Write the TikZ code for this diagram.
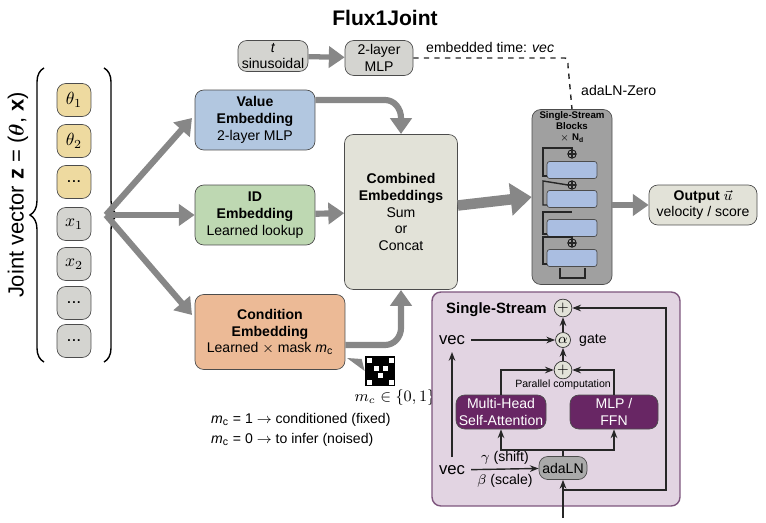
\documentclass[tikz,border=0pt]{standalone}
\usepackage{fontspec}
\setmainfont{Liberation Sans}
\usepackage{amsmath}
\usetikzlibrary{arrows.meta,positioning,decorations.pathreplacing,calc}
\definecolor{valblue}{RGB}{178,199,224}
\definecolor{idgreen}{RGB}{190,216,178}
\definecolor{condorange}{RGB}{236,186,150}
\definecolor{thetayellow}{RGB}{238,218,160}
\definecolor{boxgray}{RGB}{212,212,208}
\definecolor{combgray}{RGB}{226,226,216}
\definecolor{flowgray}{RGB}{135,135,135}
\definecolor{ssback}{RGB}{226,212,226}
\definecolor{ssedge}{RGB}{125,85,125}
\definecolor{sspurple}{RGB}{104,38,100}
\definecolor{stackgray}{RGB}{160,160,160}
\definecolor{layerblue}{RGB}{170,190,225}

\begin{document}
\begin{tikzpicture}[x=0.02cm,y=-0.02cm,
    font=\fontsize{8pt}{9.5pt}\selectfont,
    block/.style={rectangle, draw=black!70, rounded corners=5pt, align=center, inner sep=1pt},
    cell/.style={block, minimum width=0.68cm, minimum height=0.66cm, font=\fontsize{10pt}{11pt}\selectfont},
    flow/.style={draw=flowgray, line width=3.5pt, -{Triangle[length=9pt,width=12pt]}},
    thin/.style={draw=black!85, thick, -{Stealth[length=5pt]}},
    opnode/.style={circle, draw=black!80, fill=combgray, inner sep=0.5pt, minimum size=0.3cm},
    layer/.style={rectangle, draw=black!70, fill=layerblue, rounded corners=1.5pt, minimum width=1.0cm, minimum height=0.34cm}
]
    \useasboundingbox (0,0) rectangle (766,523);

    \node[font=\fontsize{12pt}{14pt}\selectfont\bfseries] (title) at (385,18) {Flux1Joint};

    % joint vector
    \node[rotate=90, font=\fontsize{12.5pt}{14pt}\selectfont] (jv) at (18,195) {Joint vector $\mathbf{z}$ = ($\boldsymbol{\theta}$, $\mathbf{x}$)};
    \node[cell, fill=thetayellow] (c1) at (74,100) {$\theta_1$};
    \node[cell, fill=thetayellow] (c2) at (74,141) {$\theta_2$};
    \node[cell, fill=thetayellow] (c3) at (74,182) {...};
    \node[cell, fill=boxgray] (c4) at (74,224) {$x_1$};
    \node[cell, fill=boxgray] (c5) at (74,264) {$x_2$};
    \node[cell, fill=boxgray] (c6) at (74,303) {...};
    \node[cell, fill=boxgray] (c7) at (74,341) {...};
    \draw[thick, decorate, decoration={brace, amplitude=8pt}] (44,362) -- (44,68);
    \draw[thick, decorate, decoration={brace, amplitude=8pt}] (104,68) -- (104,362);

    % embeddings
    \node[block, fill=valblue, minimum width=2.4cm, minimum height=1.2cm] (val) at (255,120) {\textbf{Value}\\\textbf{Embedding}\\2-layer MLP};
    \node[block, fill=idgreen, minimum width=2.4cm, minimum height=1.2cm] (id) at (255,215) {\textbf{ID}\\\textbf{Embedding}\\Learned lookup};
    \node[block, fill=condorange, minimum width=3.0cm, minimum height=1.5cm] (cond) at (270,332) {\textbf{Condition}\\\textbf{Embedding}\\Learned $\times$ mask \textit{m}\textsubscript{c}};
    \coordinate (fan) at (106,215);
    \draw[flow] (fan) -- (192,118);
    \draw[flow] (fan) -- (id.west);
    \draw[flow] (fan) -- (192,315);

    % time embedding
    \node[block, fill=boxgray, minimum width=1.4cm, minimum height=0.62cm] (tsin) at (273,56) {\textit{t}\\sinusoidal};
    \node[block, fill=boxgray, minimum width=1.36cm, minimum height=0.7cm] (tmlp) at (379,58) {2-layer\\MLP};
    \draw[flow, line width=3pt] (tsin) -- (tmlp);
    \node[anchor=west] (evec) at (420,47) {embedded time: \textit{vec}};
    \node[anchor=west] (azero) at (575,90) {adaLN-Zero};

    % combined
    \node[block, fill=combgray, minimum width=2.26cm, minimum height=3.1cm] (comb) at (401,212) {\textbf{Combined}\\\textbf{Embeddings}\\Sum\\or\\Concat};
    \draw[flow] (val.east |- 0,100) -- (385,100) to[out=0,in=90] (401,118) -- (401,134);
    \draw[flow] (id) -- (comb);
    \draw[flow] (cond.east |- 0,345) -- (385,345) to[out=0,in=-90] (401,328) -- (401,290);

    % mask
    \node[rectangle, fill=black, minimum width=0.6cm, minimum height=0.62cm, inner sep=0pt] (mask) at (380,371) {};
    \foreach \mx/\my in {369/360,391/360,376/368,385/368,380/375,369/382,391/382}
        \fill[white] (\mx-2.5,\my-2.5) rectangle (\mx+2.5,\my+2.5);
    \fill[flowgray] (mask.west) ++(-3,-12) -- (347,358) -- (mask.west) ++(-3,12) -- cycle;
    \node[font=\fontsize{9pt}{10pt}\selectfont] (mlabel) at (395,398) {$m_c \in \{0,1\}$};
    \node[anchor=west] (m1) at (205,420) {\textit{m}\textsubscript{c} = 1 $\rightarrow$ conditioned (fixed)};
    \node[anchor=west] (m0) at (205,440) {\textit{m}\textsubscript{c} = 0 $\rightarrow$ to infer (noised)};

    % single-stream stack
    \node[block, fill=stackgray, minimum width=1.6cm, minimum height=3.5cm] (stack) at (572,197) {};
    \node[font=\fontsize{5.5pt}{6.5pt}\selectfont\bfseries, align=center] (stitle) at (572,127) {Single-Stream\\Blocks\\$\times$ N\textsubscript{d}};
    \node[layer] (l1) at (572,170) {};
    \node[layer] (l2) at (572,199) {};
    \node[layer] (l3) at (572,228) {};
    \node[layer] (l4) at (572,258) {};
    \foreach \py in {154,185,243}
        \node[circle, draw, inner sep=0pt, minimum size=0.17cm] at (572,\py) {};
    \foreach \py in {154,185,243}
        \draw[thin, -] (568,\py) -- (576,\py) (572,\py-4) -- (572,\py+4);
    \draw[thin, -] (547,176) -- (543,176) -- (543,148) -- (572,148) -- (572,150);
    \draw[thin, -] (547,205) -- (543,205) -- (543,181) -- (568,185);
    \draw[thin, -] (547,234) -- (543,234) -- (543,212) -- (572,212);
    \draw[thin, -] (547,264) -- (543,264) -- (543,237) -- (572,237) -- (572,239);
    \draw[thin, -] (560,268) -- (560,278) -- (585,278) -- (585,268);
    \draw[dashed, thin, -] (tmlp.east) -- (565,58) to[out=0,in=90] (568,66) -- (stack.north);

    \draw[flow, line width=6pt, -{Triangle[length=12pt,width=18pt]}] (comb) -- (stack.west);
    \node[block, fill=combgray, minimum width=2.16cm, minimum height=0.8cm] (out) at (703,205) {\textbf{Output} $\vec{u}$\\velocity / score};
    \draw[flow] (stack.east |- out) -- (out);

    % single-stream detail
    \node[block, fill=ssback, draw=ssedge, thick, minimum width=4.96cm, minimum height=4.28cm] (ss) at (556,399) {};
    \node[anchor=west, font=\fontsize{8.5pt}{10pt}\selectfont\bfseries] (sstitle) at (440,310) {Single-Stream};
    \node[opnode] (addtop) at (563,308) {$+$};
    \node[opnode] (gate) at (563,340) {$\alpha$};
    \node[anchor=west] (gatel) at (573,340) {gate};
    \node[opnode] (addpar) at (563,370) {$+$};
    \node[font=\fontsize{6pt}{7pt}\selectfont] (parl) at (563,385) {Parallel computation};
    \node[block, fill=sspurple, text=white, minimum width=1.8cm, minimum height=0.68cm] (mhsa) at (501,412) {Multi-Head\\Self-Attention};
    \node[block, fill=sspurple, text=white, minimum width=1.76cm, minimum height=0.68cm] (ffn) at (614,412) {MLP /\\FFN};
    \node[block, fill=stackgray!90, minimum width=0.96cm, minimum height=0.46cm] (adaln) at (563,468) {adaLN};
    \node[font=\fontsize{9.5pt}{10pt}\selectfont] (vtop) at (452,340) {vec};
    \node[font=\fontsize{9.5pt}{10pt}\selectfont] (vbot) at (452,470) {vec};
    \coordinate (inlet) at (563,518);
    \draw[thin] (inlet) -- (adaln);
    \draw[thin] (vbot) -- node[above=-1pt] {$\gamma$ (shift)} node[below=-1pt] {$\beta$ (scale)} (adaln);
    \draw[thin] (vbot.north) ++(0,-2) -- (452,352);
    \draw[thin] (vtop) -- (gate);
    \draw[thin] (adaln.north) -- (563,450) -| (mhsa.south);
    \draw[thin] (563,450) -| (ffn.south);
    \draw[thin] (mhsa.north) |- (addpar.west);
    \draw[thin] (ffn.north) |- (addpar.east);
    \draw[thin] (addpar) -- (gate);
    \draw[thin] (gate) -- (addtop);
    \draw[thin] (563,490) -- (666,490) |- (addtop.east);
\end{tikzpicture}
\end{document}
